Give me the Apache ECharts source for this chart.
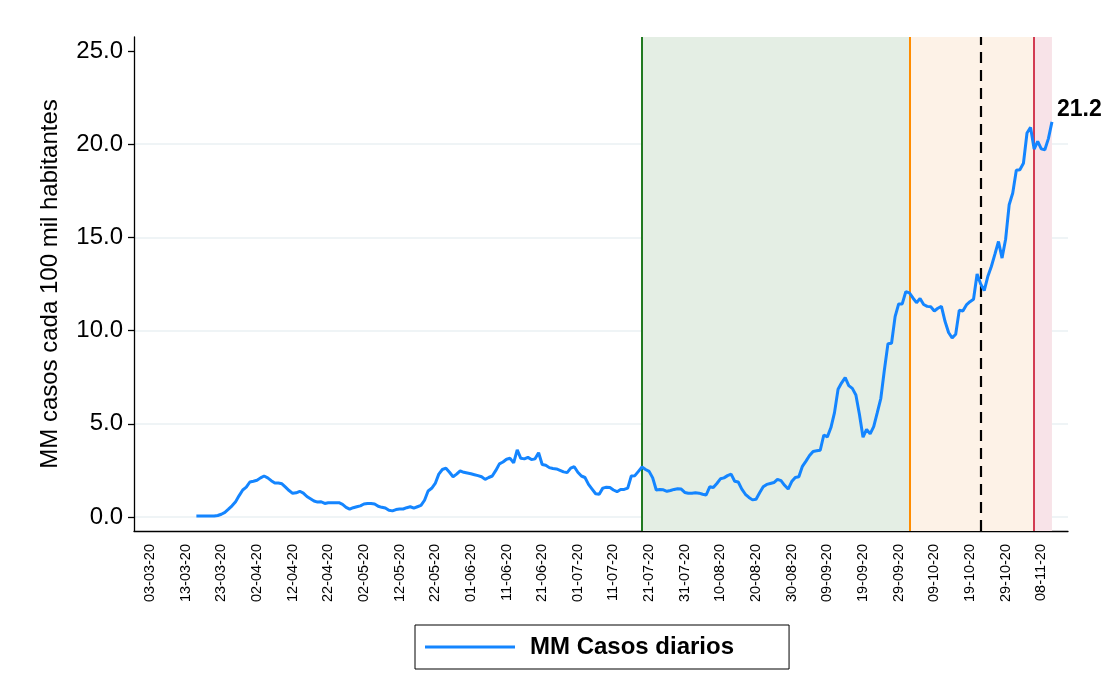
<!DOCTYPE html>
<html>
<head>
<meta charset="utf-8">
<script src="https://cdn.jsdelivr.net/npm/echarts@6/dist/echarts.min.js"></script>
<style>
  html, body { margin: 0; padding: 0; background: #fff; }
  #chart { width: 1105px; height: 693px; }
</style>
</head>
<body>
<div id="chart"></div>
<script>
// eje x: un dia por categoria, del 28-02-20 al 15-11-20
const startDate = Date.UTC(2020, 1, 28)
const dayCount = 262
const categories = []
for (let i = 0; i < dayCount; i++) {
  const d = new Date(startDate + i * 86400000)
  const dd = String(d.getUTCDate()).padStart(2, '0')
  const mm = String(d.getUTCMonth() + 1).padStart(2, '0')
  categories.push(dd + '-' + mm + '-20')
}

// media movil de casos cada 100 mil habitantes, desde el 16-03-20
const firstDay = '16-03-20'
const casos = [
  0.05, 0.05, 0.05, 0.05, 0.05, 0.05, 0.08, 0.15, 0.25, 0.42,
  0.6, 0.82, 1.15, 1.45, 1.6, 1.88, 1.92, 1.97, 2.1, 2.2,
  2.1, 1.95, 1.83, 1.82, 1.78, 1.6, 1.42, 1.27, 1.3, 1.38,
  1.28, 1.1, 0.98, 0.86, 0.8, 0.82, 0.73, 0.77, 0.77, 0.77,
  0.77, 0.68, 0.52, 0.42, 0.5, 0.55, 0.6, 0.7, 0.73, 0.72,
  0.7, 0.58, 0.52, 0.48, 0.36, 0.33, 0.4, 0.43, 0.43, 0.5,
  0.55, 0.48, 0.55, 0.62, 0.9, 1.4, 1.54, 1.8, 2.3, 2.55,
  2.62, 2.4, 2.16, 2.3, 2.48, 2.4, 2.36, 2.32, 2.27, 2.22,
  2.16, 2.02, 2.12, 2.2, 2.5, 2.85, 2.95, 3.1, 3.15, 2.9,
  3.6, 3.15, 3.12, 3.2, 3.08, 3.12, 3.45, 2.82, 2.78, 2.65,
  2.6, 2.58, 2.5, 2.42, 2.38, 2.62, 2.7, 2.4, 2.2, 2.12,
  1.75, 1.5, 1.25, 1.22, 1.55, 1.6, 1.58, 1.45, 1.36, 1.48,
  1.48, 1.55, 2.2, 2.22, 2.45, 2.68, 2.55, 2.45, 2.1, 1.45,
  1.47, 1.46, 1.38, 1.42, 1.48, 1.52, 1.5, 1.32, 1.28, 1.28,
  1.3, 1.28, 1.22, 1.18, 1.62, 1.58, 1.8, 2.05, 2.1, 2.22,
  2.3, 1.92, 1.88, 1.5, 1.22, 1.05, 0.92, 0.95, 1.3, 1.62,
  1.75, 1.8, 1.85, 2.02, 1.95, 1.7, 1.5, 1.9, 2.12, 2.16,
  2.72, 3.0, 3.3, 3.52, 3.55, 3.58, 4.4, 4.3, 4.8, 5.6,
  6.85, 7.2, 7.48, 7.05, 6.9, 6.55, 5.5, 4.28, 4.7, 4.46,
  4.85, 5.6, 6.37, 7.9, 9.3, 9.32, 10.75, 11.43, 11.43, 12.09,
  12.02, 11.75, 11.5, 11.72, 11.4, 11.3, 11.28, 11.05, 11.2, 11.3,
  10.5, 9.9, 9.6, 9.8, 11.1, 11.05, 11.38, 11.55, 11.68, 13.04,
  12.5, 12.15, 12.9, 13.44, 14.1, 14.78, 13.89, 14.9, 16.75, 17.38,
  18.6, 18.63, 18.98, 20.6, 20.9, 19.74, 20.15, 19.75, 19.7, 20.3,
  21.2
]

// fechas de las fases
const faseVerde = '19-07-20'
const faseNaranja = '02-10-20'
const lineaPunteada = '22-10-20'
const faseRoja = '06-11-20'

const yTicks = [0, 5, 10, 15, 20, 25]
const firstLabelIndex = categories.indexOf('03-03-20')

const offset = categories.indexOf(firstDay)
const lastDay = categories[offset + casos.length - 1]
const seriesData = categories.map((c, i) => {
  const k = i - offset
  if (k < 0 || k >= casos.length) return null
  return casos[k]
})

const chart = echarts.init(document.getElementById('chart'))
const font = 'Liberation Sans, Arial, sans-serif'
const showTick = (i) => i >= firstLabelIndex && (i - firstLabelIndex) % 10 === 0

const option = {
  backgroundColor: '#fff',
  animation: false,
  grid: { left: 134, right: 37, top: 37, bottom: 162 },
  legend: {
    left: 415,
    top: 625,
    data: ['MM Casos diarios'],
    icon: 'rect',
    itemWidth: 90,
    itemHeight: 3,
    borderColor: '#000',
    borderWidth: 1,
    borderRadius: 0,
    padding: [10, 55, 10, 10],
    textStyle: { color: '#000', fontSize: 24, fontWeight: 'bold', fontFamily: font, padding: [0, 0, 0, 10] },
  },
  xAxis: {
    type: 'category',
    data: categories,
    boundaryGap: true,
    axisLine: { onZero: false, lineStyle: { color: '#000', width: 1.3 } },
    axisTick: {
      alignWithLabel: true,
      length: 9,
      interval: showTick,
      lineStyle: { color: '#000', width: 1.3 },
    },
    axisLabel: {
      interval: showTick,
      rotate: 90,
      color: '#000',
      fontSize: 14.5,
      fontFamily: font,
      margin: 13,
    },
    splitLine: { show: false },
  },
  yAxis: {
    type: 'value',
    min: -0.75,
    max: 25.75,
    name: 'MM casos cada 100 mil habitantes',
    nameLocation: 'middle',
    nameGap: 72,
    nameTextStyle: { color: '#000', fontSize: 24, fontFamily: font },
    axisLine: { show: true, lineStyle: { color: '#000', width: 1.3 } },
    axisTick: { show: true, length: 6, customValues: yTicks, lineStyle: { color: '#000', width: 1.3 } },
    axisLabel: {
      customValues: yTicks,
      formatter: (v) => v.toFixed(1),
      color: '#000',
      fontSize: 24,
      fontFamily: font,
      margin: 11,
    },
    splitLine: {
      show: true,
      lineStyle: { color: ['#eaf0f3', '#eaf0f3', '#eaf0f3', '#eaf0f3', '#eaf0f3', 'rgba(0,0,0,0)'], width: 1.5 },
    },
  },
  series: [
    {
      name: 'MM Casos diarios',
      type: 'line',
      data: seriesData,
      showSymbol: false,
      symbol: 'none',
      connectNulls: false,
      z: 5,
      color: '#1485ff',
      lineStyle: { color: '#1485ff', width: 3 },
      endLabel: {
        show: true,
        formatter: (p) => Number(p.value).toFixed(1),
        offset: [-3, -12],
        color: '#000',
        fontWeight: 'bold',
        fontSize: 23,
        fontFamily: font,
      },
      markArea: {
        silent: true,
        data: [
          [{ xAxis: faseVerde, itemStyle: { color: '#e4eee4' } }, { xAxis: faseNaranja }],
          [{ xAxis: faseNaranja, itemStyle: { color: '#fdf2e7' } }, { xAxis: faseRoja }],
          [{ xAxis: faseRoja, itemStyle: { color: '#f8e3e8' } }, { xAxis: lastDay }],
        ],
      },
      markLine: {
        silent: true,
        symbol: 'none',
        label: { show: false },
        data: [
          { xAxis: faseVerde, lineStyle: { color: '#217a21', width: 2, type: 'solid' } },
          { xAxis: faseNaranja, lineStyle: { color: '#ff8c00', width: 2, type: 'solid' } },
          { xAxis: lineaPunteada, lineStyle: { color: '#000', width: 2.2, type: [11, 7] } },
          { xAxis: faseRoja, lineStyle: { color: '#c8102e', width: 1.6, type: 'solid' } },
        ],
      },
    },
  ],
}

chart.setOption(option)

window.addEventListener('resize', () => {
  chart.resize()
})
</script>
</body>
</html>
